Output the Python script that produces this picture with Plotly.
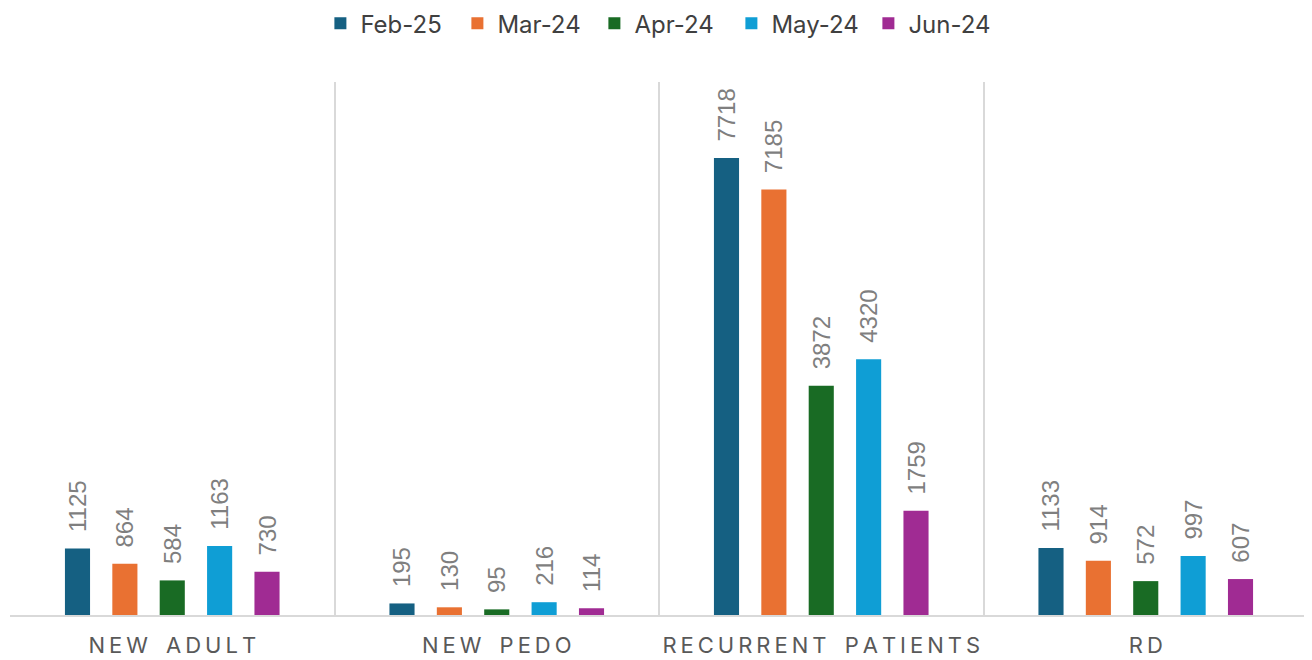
import plotly.graph_objects as go

categories = ["NEW ADULT", "NEW PEDO", "RECURRENT PATIENTS", "RD"]
series_names = ["Feb-25", "Mar-24", "Apr-24", "May-24", "Jun-24"]
feb25 = [1125, 195, 7718, 1133]
mar24 = [864, 130, 7185, 914]
apr24 = [584, 95, 3872, 572]
may24 = [1163, 216, 4320, 997]
jun24 = [730, 114, 1759, 607]
colors = ["#156082", "#E97132", "#196B24", "#0F9ED5", "#A02B93"]

series_values = [feb25, mar24, apr24, may24, jun24]

def spaced(s):
    # emulate letter spacing with thin spaces
    return "\u2009".join(list(s)).replace("\u2009 \u2009", "\u2009 \u2009\u2009")

tick_labels = [spaced(c) for c in categories]

fig = go.Figure()
for name, vals, col in zip(series_names, series_values, colors):
    fig.add_trace(go.Bar(
        name=name,
        x=categories,
        y=vals,
        marker=dict(color=col, line=dict(width=0)),
        text=["\u00a0\u00a0" + str(v) for v in vals],
        textposition="outside",
        textangle=-90,
        constraintext="none",
        textfont=dict(family="Liberation Sans, Arial, sans-serif", size=24, color="#7F7F7F"),
        cliponaxis=False,
    ))

# page body has an 8px margin: compensate in figure size / margins
fig.update_layout(
    width=1304,
    height=652,
    paper_bgcolor="white",
    plot_bgcolor="white",
    barmode="group",
    bargap=0.27,
    bargroupgap=0.47,
    margin=dict(l=2, r=4, t=74, b=45),
    legend=dict(
        orientation="h",
        x=0.503, xanchor="center",
        y=0.976, yref="container", yanchor="middle",
        font=dict(family="Inter, Noto Sans, sans-serif", size=24, color="#404040"),
        entrywidth=92,
        tracegroupgap=0,
    ),
    xaxis=dict(
        tickmode="array",
        tickvals=categories,
        ticktext=tick_labels,
        tickson="boundaries",
        tickangle=0,
        ticks="",
        ticklabelstandoff=10,
        showgrid=True,
        gridcolor="#D9D9D9",
        gridwidth=1.5,
        showline=True,
        linecolor="#D9D9D9",
        linewidth=1.5,
        automargin=False,
        tickfont=dict(family="Inter, Noto Sans, sans-serif", size=22, color="#595959"),
    ),
    yaxis=dict(
        range=[0, 9000],
        showgrid=False,
        showticklabels=False,
        zeroline=False,
        showline=False,
    ),
)

fig.write_html("out.html")
